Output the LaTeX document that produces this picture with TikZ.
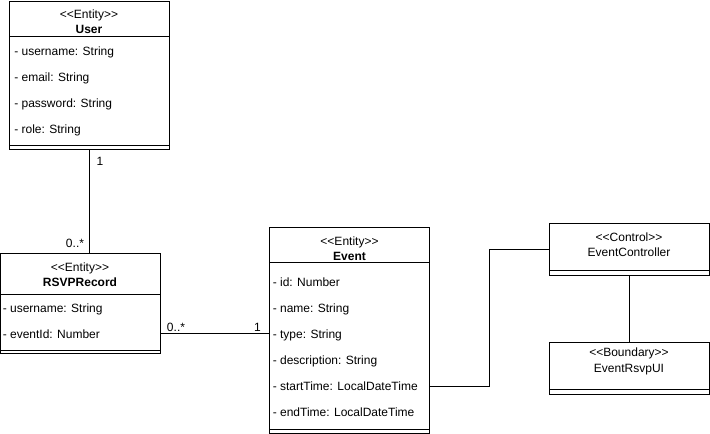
\documentclass[tikz,border=0pt]{standalone}
\usepackage{fontspec}
\setmainfont{Liberation Sans}
\newcommand\stereotype[1]{<\kern0pt<#1>\kern0pt>}
\begin{document}
\begin{tikzpicture}[x=0.75pt,y=-0.75pt,
  cls/.style 2 args={draw=black, line width=0.75pt, fill=white, inner sep=0pt, outer sep=0pt, anchor=north west, minimum width=#1*0.75pt, minimum height=#2*0.75pt},
  sepline/.style={draw=black, line width=0.75pt},
  stereo/.style={anchor=base, inner sep=0pt, font=\fontsize{9}{10.8}\selectfont},
  title/.style={anchor=base, inner sep=0pt, font=\fontsize{9}{10.8}\selectfont\bfseries},
  plaintitle/.style={anchor=base, inner sep=0pt, font=\fontsize{9}{10.8}\selectfont},
  attr/.style={anchor=base west, inner sep=0pt, font=\fontsize{9}{10.8}\selectfont},
  mult/.style={anchor=base, inner sep=0pt, font=\fontsize{9}{10.8}\selectfont},
  assoc/.style={draw=black, line width=0.75pt}
]
\useasboundingbox (0,0) rectangle (710,434);

% ---------- User ----------
\node[cls={160}{147.5}] (user) at (9,2) {};
\draw[sepline] (user.west |- 0,37) -- (user.east |- 0,37);
\draw[sepline] (user.west |- 0,145.5) -- (user.east |- 0,145.5);
\node[stereo] (userS) at (89,18.5) {\stereotype{Entity}};
\node[title]  (userT) at (89,33.5) {User};
\node[attr] (u1) at (14,56) {- username: String};
\node[attr] (u2) at (14,82) {- email: String};
\node[attr] (u3) at (14,108) {- password: String};
\node[attr] (u4) at (14,134) {- role: String};

% ---------- RSVPRecord ----------
\node[cls={159.5}{100}] (rsvp) at (0.5,254) {};
\draw[sepline] (rsvp.west |- 0,295) -- (rsvp.east |- 0,295);
\draw[sepline] (rsvp.west |- 0,350.5) -- (rsvp.east |- 0,350.5);
\node[stereo] (rsvpS) at (80,271.5) {\stereotype{Entity}};
\node[title]  (rsvpT) at (80,287) {RSVPRecord};
\node[attr] (r1) at (2.5,312.3) {- username: String};
\node[attr] (r2) at (2.5,338.3) {- eventId: Number};

% ---------- Event ----------
\node[cls={160}{205}] (event) at (269.5,228) {};
\draw[sepline] (event.west |- 0,263) -- (event.east |- 0,263);
\draw[sepline] (event.west |- 0,429) -- (event.east |- 0,429);
\node[stereo] (eventS) at (349.5,246) {\stereotype{Entity}};
\node[title]  (eventT) at (349.5,260.5) {Event};
\node[attr] (e1) at (272.5,286.3) {- id: Number};
\node[attr] (e2) at (272.5,312.3) {- name: String};
\node[attr] (e3) at (272.5,338.3) {- type: String};
\node[attr] (e4) at (272.5,364.3) {- description: String};
\node[attr] (e5) at (272.5,390.3) {- startTime: LocalDateTime};
\node[attr] (e6) at (272.5,416.3) {- endTime: LocalDateTime};

% ---------- EventController ----------
\node[cls={160}{51.5}] (ctrl) at (549,224) {};
\draw[sepline] (ctrl.west |- 0,270.5) -- (ctrl.east |- 0,270.5);
\node[stereo] (ctrlS) at (629,241.5) {\stereotype{Control}};
\node[plaintitle] (ctrlT) at (629,257) {EventController};

% ---------- EventRsvpUI ----------
\node[cls={160}{51.5}] (ui) at (549,343) {};
\draw[sepline] (ui.west |- 0,389.5) -- (ui.east |- 0,389.5);
\node[stereo] (uiS) at (629,357) {\stereotype{Boundary}};
\node[plaintitle] (uiT) at (629,373) {EventRsvpUI};

% ---------- Connectors ----------
\draw[assoc] (user.south) -- (user.south |- rsvp.north);
\node[mult] (m1) at (100,166) {1};
\node[mult] (m2) at (75,248) {0..*};

\draw[assoc] (rsvp.east |- 0,334) -- (event.west |- 0,334);
\node[mult] (m3) at (176,331.5) {0..*};
\node[mult] (m4) at (257.5,331.5) {1};

\coordinate (evst) at (event.east |- 0,386);
\coordinate (bend) at (489,386);
\draw[assoc] (evst) -- (bend) |- (ctrl.west);

\draw[assoc] (ctrl.south) -- (ui.north);
\end{tikzpicture}
\end{document}
